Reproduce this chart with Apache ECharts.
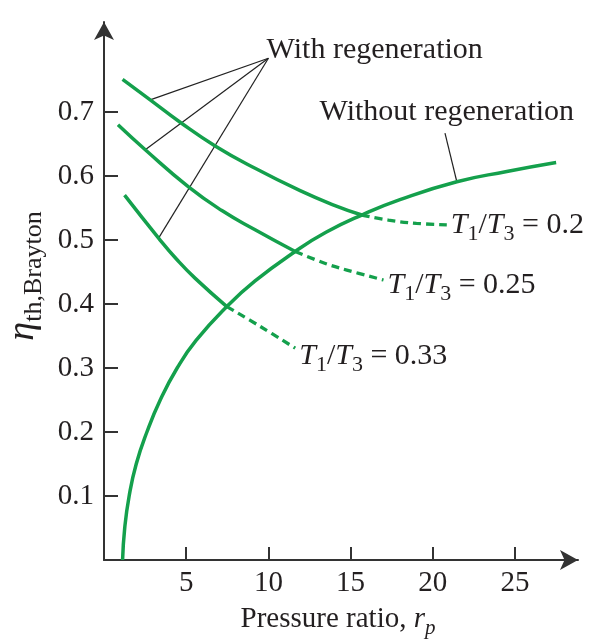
<!DOCTYPE html>
<html><head><meta charset="utf-8">
<script src="https://cdn.jsdelivr.net/npm/echarts@6/dist/echarts.min.js"></script>
<style>html,body{margin:0;padding:0;background:#fff}#c{width:590px;height:642px}</style>
</head><body><div id="c"></div>
<script>
// ---- data ----
const xTicks = [5, 10, 15, 20, 25];
const yTicks = [0.1, 0.2, 0.3, 0.4, 0.5, 0.6, 0.7];

const noRegenX = [1.13, 1.26, 1.53, 1.96, 2.61, 3.42, 4.45, 5.6, 7.47, 9.19, 11.63, 13.5, 15.68, 18.0, 21.46, 24.5, 27.5];
const noRegenY = [0, 0.05, 0.1, 0.15, 0.2, 0.25, 0.3, 0.343, 0.396, 0.436, 0.482, 0.512, 0.539, 0.563, 0.591, 0.607, 0.621];

const regen02X = [1.13, 2.81, 4.63, 6.76, 9.19, 11.93, 13.93, 15.68];
const regen02Y = [0.751, 0.719, 0.684, 0.647, 0.612, 0.577, 0.555, 0.539];
const regen02DashX = [15.68, 17.3, 19.0, 20.85];
const regen02DashY = [0.539, 0.531, 0.526, 0.5235];

const regen025X = [0.85, 2.51, 5.14, 7.17, 9.19, 11.63];
const regen025Y = [0.680, 0.641, 0.583, 0.546, 0.516, 0.482];
const regen025DashX = [11.63, 13.55, 14.77, 17.0];
const regen025DashY = [0.482, 0.4625, 0.453, 0.4375];

const regen033X = [1.25, 3.32, 4.43, 5.55, 7.47];
const regen033Y = [0.570, 0.503, 0.4695, 0.440, 0.396];
const regen033DashX = [7.47, 9.5, 11.63];
const regen033DashY = [0.396, 0.365, 0.331];

const ratioLabels = ['0.2', '0.25', '0.33'];

// annotation pointers (data coordinates)
const withRegenHub = [10.0, 0.784];
const withRegenTargets = [[2.81, 0.719], [2.51, 0.641], [3.32, 0.503]];
const withoutRegenPointer = [[20.74, 0.667], [21.46, 0.591]];
const annotationTexts = ['With regeneration', 'Without regeneration'];
const annotationAnchors = [[9.86, 0.797], [13.08, 0.700]];

// ---- chart ----
const FONT = 'Liberation Serif';
const GREEN = '#14a04c';
const INK = '#231f20';
const zip = (xs, ys) => xs.map((x, i) => [x, ys[i]]);

const ratioRich = {
  i: {fontFamily: FONT, fontSize: 30, fontStyle: 'italic', color: INK, lineHeight: 30, verticalAlign: 'top'},
  n: {fontFamily: FONT, fontSize: 30, color: INK, lineHeight: 30, verticalAlign: 'top'},
  s: {fontFamily: FONT, fontSize: 22, color: INK, lineHeight: 22, verticalAlign: 'top', padding: [13, 0, 0, 0]}
};
const ratioFmt = v => '{i|T}{s|1}{n|/}{i|T}{s|3}{n| = ' + v + '}';

function solid(xs, ys) {
  return {type: 'line', data: zip(xs, ys), smooth: 0.5, symbol: 'none',
    lineStyle: {color: GREEN, width: 3.5}, z: 3, silent: true};
}
function dashed(xs, ys, label, offY) {
  return {type: 'line', data: zip(xs, ys), smooth: 0.4, symbol: 'none',
    lineStyle: {color: GREEN, width: 3.3, type: [8, 5]}, z: 3, silent: true,
    endLabel: {show: true, formatter: ratioFmt(label), rich: ratioRich, distance: 4, offset: [0, offY]}};
}
function pointer(a, b) {
  return {type: 'line', data: [a, b], symbol: 'none', lineStyle: {color: '#222', width: 1.2}, z: 2, silent: true};
}

const series = [
  solid(noRegenX, noRegenY),
  solid(regen02X, regen02Y), dashed(regen02DashX, regen02DashY, ratioLabels[0], 0),
  solid(regen025X, regen025Y), dashed(regen025DashX, regen025DashY, ratioLabels[1], 5),
  solid(regen033X, regen033Y), dashed(regen033DashX, regen033DashY, ratioLabels[2], 8),
  ...withRegenTargets.map(t => pointer(withRegenHub, t)),
  pointer(withoutRegenPointer[0], withoutRegenPointer[1]),
  {type: 'scatter', symbolSize: 1, itemStyle: {opacity: 0}, silent: true, z: 5,
    data: annotationAnchors.map((p, i) => ({value: p, name: annotationTexts[i]})),
    label: {show: true, position: 'right', distance: 0,
      formatter: p => p.name, fontFamily: FONT, fontSize: 30, color: INK, opacity: 1}}
];

const chart = echarts.init(document.getElementById('c'), null, {renderer: 'canvas'});
chart.setOption({
  backgroundColor: '#fff',
  animation: false,
  grid: {left: 104, right: 12, top: 22, bottom: 82, containLabel: false, outerBoundsMode: 'none'},
  xAxis: {
    type: 'value', min: 0, max: 28.83,
    axisLine: {show: true, symbol: ['none', 'arrow'], symbolSize: [15, 18], lineStyle: {color: '#333', width: 2}},
    axisTick: {show: true, inside: true, length: 13, customValues: xTicks, lineStyle: {color: '#333', width: 2}},
    axisLabel: {customValues: xTicks, margin: 9, fontFamily: FONT, fontSize: 29, color: INK},
    splitLine: {show: false},
    name: '{n|Pressure ratio, }{i|r}{s|p}', nameLocation: 'middle', nameGap: 45,
    nameTextStyle: {padding: [0, 6, 0, 0], rich: {
      n: {fontFamily: FONT, fontSize: 29, color: INK, lineHeight: 29, verticalAlign: 'top'},
      i: {fontFamily: FONT, fontSize: 29, fontStyle: 'italic', color: INK, lineHeight: 29, verticalAlign: 'top'},
      s: {fontFamily: FONT, fontSize: 21, fontStyle: 'italic', color: INK, lineHeight: 21, verticalAlign: 'top', padding: [13, 0, 0, 0]}
    }}
  },
  yAxis: {
    type: 'value', min: 0, max: 0.8406,
    axisLine: {show: true, symbol: ['none', 'arrow'], symbolSize: [15, 18], lineStyle: {color: '#333', width: 2}},
    axisTick: {show: true, inside: true, length: 14, customValues: yTicks, lineStyle: {color: '#333', width: 2}},
    axisLabel: {customValues: yTicks, margin: 10, fontFamily: FONT, fontSize: 29, color: INK,
      formatter: v => v.toFixed(1)},
    splitLine: {show: false},
    name: '{e|η}{s|th,Brayton}', nameLocation: 'middle', nameRotate: 90, nameGap: 60,
    nameTextStyle: {padding: [0, 0, 0, 30], rich: {
      e: {fontFamily: FONT, fontSize: 38, fontStyle: 'italic', color: INK, lineHeight: 38, verticalAlign: 'top'},
      s: {fontFamily: FONT, fontSize: 26, color: INK, lineHeight: 26, verticalAlign: 'top', padding: [17, 0, 0, 0]}
    }}
  },
  series: series
});
</script></body></html>
